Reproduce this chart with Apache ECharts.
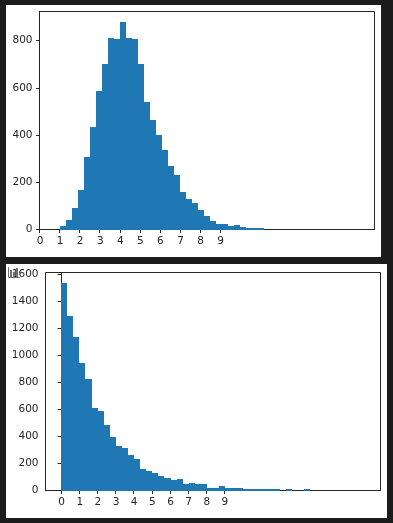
<!DOCTYPE html>
<html>
<head>
<meta charset="utf-8">
<style>
  html, body { margin: 0; padding: 0; background: #1c1c1c; }
  #chart { width: 393px; height: 523px; }
</style>
<script src="https://cdn.jsdelivr.net/npm/echarts@6/dist/echarts.min.js"></script>
</head>
<body>
<div id="chart"></div>
<script>
// histogram bin edges and counts
const topEdges = [1.0, 1.3, 1.6, 1.9, 2.2, 2.5, 2.8, 3.1, 3.4, 3.7, 4.0, 4.3, 4.6, 4.9, 5.2, 5.5, 5.8,
  6.1, 6.4, 6.7, 7.0, 7.3, 7.6, 7.9, 8.2, 8.5, 8.8, 9.1, 9.4, 9.7, 10.0, 10.3, 10.6, 10.9, 11.2];
const topCounts = [14, 39, 90, 166, 306, 432, 585, 700, 810, 805, 878, 810, 805, 700, 538, 465, 398,
  338, 270, 230, 158, 128, 112, 82, 56, 35, 22, 22, 14, 18, 10, 5, 5, 5];

const bottomEdges = [0, 0.335, 0.67, 1.005, 1.34, 1.675, 2.01, 2.345, 2.68, 3.015, 3.35, 3.685, 4.02, 4.355,
  4.69, 5.025, 5.36, 5.695, 6.03, 6.365, 6.7, 7.035, 7.37, 7.705, 8.04, 8.375, 8.71, 9.045, 9.38, 9.715,
  10.05, 10.385, 10.72, 11.055, 11.39, 11.725, 12.06, 12.395, 12.73, 13.065, 13.4, 13.735];
const bottomCounts = [1535, 1291, 1135, 943, 824, 610, 587, 484, 395, 328, 313, 261, 232, 158, 143, 128, 106,
  91, 76, 84, 47, 54, 47, 47, 17, 17, 32, 17, 17, 17, 8, 8, 8, 8, 8, 8, 0, 8, 0, 0, 8];

const topXTicks = [0, 1, 2, 3, 4, 5, 6, 7, 8, 9];
const topYTicks = [0, 200, 400, 600, 800];
const bottomXTicks = [0, 1, 2, 3, 4, 5, 6, 7, 8, 9];
const bottomYTicks = [0, 200, 400, 600, 800, 1000, 1200, 1400, 1600];

const ink = '#262626';
const barColor = '#1f77b4';
const iconColor = '#707070';
const labelFont = { color: ink, fontFamily: 'DejaVu Sans', fontSize: 10.5 };

const toBins = (edges, counts) => counts.map((count, i) => [edges[i], edges[i + 1], count]);

// snap to whole pixels so neighbouring bars don't show seams
const renderBin = (params, api) => {
  const start = api.coord([api.value(0), api.value(2)]);
  const end = api.coord([api.value(1), 0]);
  const x = Math.round(start[0]);
  const y = Math.round(start[1]);
  return {
    type: 'rect',
    shape: { x, y, width: Math.round(end[0]) - x, height: Math.round(end[1]) - y },
    style: { fill: barColor }
  };
};

const xAxisFor = (gridIndex, min, max, ticks) => ({
  type: 'value',
  gridIndex,
  min,
  max,
  splitLine: { show: false },
  axisLine: { show: true, onZero: false, lineStyle: { color: ink, width: 1 } },
  axisTick: { show: true, length: 3.5, customValues: ticks, lineStyle: { color: ink, width: 1 } },
  axisLabel: { ...labelFont, margin: 6, padding: [0, 0, 0, 1], customValues: ticks, formatter: v => String(v) }
});

const yAxisFor = (gridIndex, max, ticks) => ({
  type: 'value',
  gridIndex,
  min: 0,
  max,
  splitLine: { show: false },
  axisLine: { show: true, lineStyle: { color: ink, width: 1 } },
  axisTick: { show: true, length: 3.5, customValues: ticks, lineStyle: { color: ink, width: 1 } },
  axisLabel: { ...labelFont, margin: 7, padding: [2, 0, 0, 0], customValues: ticks, formatter: v => String(v) }
});

const panel = (x, y, width, height) => ({
  type: 'rect',
  silent: true,
  z: -10,
  shape: { x, y, width, height },
  style: { fill: '#ffffff' }
});

// little toolbar glyph sitting over the second panel's corner
const iconBar = (x, y, height) => ({
  type: 'rect',
  silent: true,
  z: 100,
  shape: { x, y, width: 2, height },
  style: { fill: iconColor }
});

const option = {
  animation: false,
  backgroundColor: '#1c1c1c',
  graphic: {
    elements: [
      panel(6, 5, 375, 252),
      panel(6, 264, 381, 254),
      iconBar(10, 270, 7),
      iconBar(13, 272, 5),
      iconBar(16, 268, 9),
      {
        type: 'polyline',
        silent: true,
        z: 100,
        shape: { points: [[8.5, 267], [8.5, 277.5], [20, 277.5]] },
        style: { stroke: iconColor, fill: null, lineWidth: 1 }
      }
    ]
  },
  grid: [
    { left: 39.5, top: 11.5, width: 335, height: 218, show: true, borderColor: ink, borderWidth: 1, backgroundColor: 'transparent' },
    { left: 45.5, top: 272.5, width: 335, height: 218, show: true, borderColor: ink, borderWidth: 1, backgroundColor: 'transparent' }
  ],
  xAxis: [
    xAxisFor(0, 0, 16.69, topXTicks),
    xAxisFor(1, -0.86, 17.6, bottomXTicks)
  ],
  yAxis: [
    yAxisFor(0, 923, topYTicks),
    yAxisFor(1, 1615, bottomYTicks)
  ],
  series: [
    { type: 'custom', xAxisIndex: 0, yAxisIndex: 0, renderItem: renderBin, encode: { x: [0, 1], y: 2 }, data: toBins(topEdges, topCounts) },
    { type: 'custom', xAxisIndex: 1, yAxisIndex: 1, renderItem: renderBin, encode: { x: [0, 1], y: 2 }, data: toBins(bottomEdges, bottomCounts) }
  ]
};

const myChart = echarts.init(document.getElementById('chart'), null, { renderer: 'canvas' });
myChart.setOption(option);
</script>
</body>
</html>
